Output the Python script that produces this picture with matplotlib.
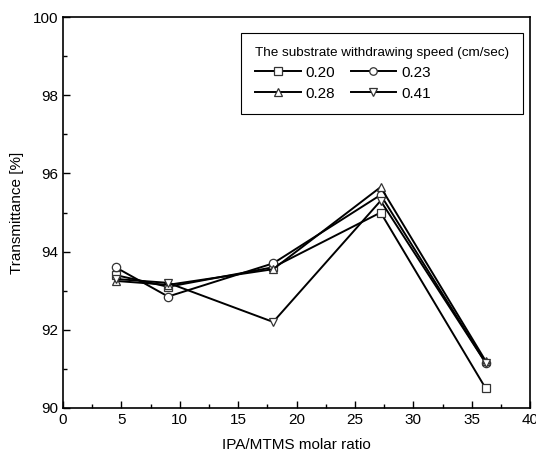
import numpy as np
import matplotlib.pyplot as plt
from matplotlib.ticker import MultipleLocator

plt.rcParams["font.family"] = ["Liberation Sans", "DejaVu Sans"]
plt.rcParams["font.size"] = 11

ratio = [4.5, 9.0, 18.0, 27.2, 36.2]
speeds = ["0.20", "0.23", "0.28", "0.41"]
t_020 = [93.4, 93.1, 93.6, 95.0, 90.5]
t_023 = [93.6, 92.85, 93.7, 95.45, 91.15]
t_028 = [93.25, 93.15, 93.55, 95.65, 91.2]
t_041 = [93.3, 93.2, 92.2, 95.3, 91.15]
series = [t_020, t_023, t_028, t_041]
markers = ["s", "o", "^", "v"]

fig = plt.figure(figsize=(5.36, 4.62), dpi=100)
ax = fig.add_axes([0.1175, 0.117, 0.8715, 0.846])

lines = []
for vals, m, lab in zip(series, markers, speeds):
    ln, = ax.plot(ratio, vals, color="black", lw=1.4, marker=m, ms=6,
                  mfc="white", mec="#333333", mew=0.9, label=lab)
    lines.append(ln)

ax.set_xlim(0, 40)
ax.set_ylim(90, 100)
ax.xaxis.set_major_locator(MultipleLocator(5))
ax.xaxis.set_minor_locator(MultipleLocator(2.5))
ax.yaxis.set_major_locator(MultipleLocator(2))
ax.yaxis.set_minor_locator(MultipleLocator(1))
ax.tick_params(which="both", direction="in", top=False, right=False)
ax.tick_params(which="major", length=5, width=1, labelsize=11)
ax.tick_params(which="minor", length=3, width=1)
for s in ax.spines.values():
    s.set_linewidth(1.2)
ax.set_xlabel("IPA/MTMS molar ratio", labelpad=8, fontsize=11)
ax.set_ylabel("Transmittance [%]", labelpad=6, fontsize=11)

# row-wise legend order: 0.20 0.23 / 0.28 0.41
order = [0, 2, 1, 3]
leg = ax.legend([lines[i] for i in order], [speeds[i] for i in order],
                title="The substrate withdrawing speed (cm/sec)", ncol=2,
                loc="upper right", bbox_to_anchor=(0.985, 0.959),
                borderaxespad=0,
                fancybox=False, edgecolor="black", framealpha=1,
                handlelength=3.0, handletextpad=0.3, columnspacing=1.0,
                fontsize=11, title_fontsize=9.7, borderpad=0.9,
                labelspacing=0.45, alignment="left", markerscale=0.9)
leg.get_frame().set_linewidth(0.8)

fig.savefig("out.png")
